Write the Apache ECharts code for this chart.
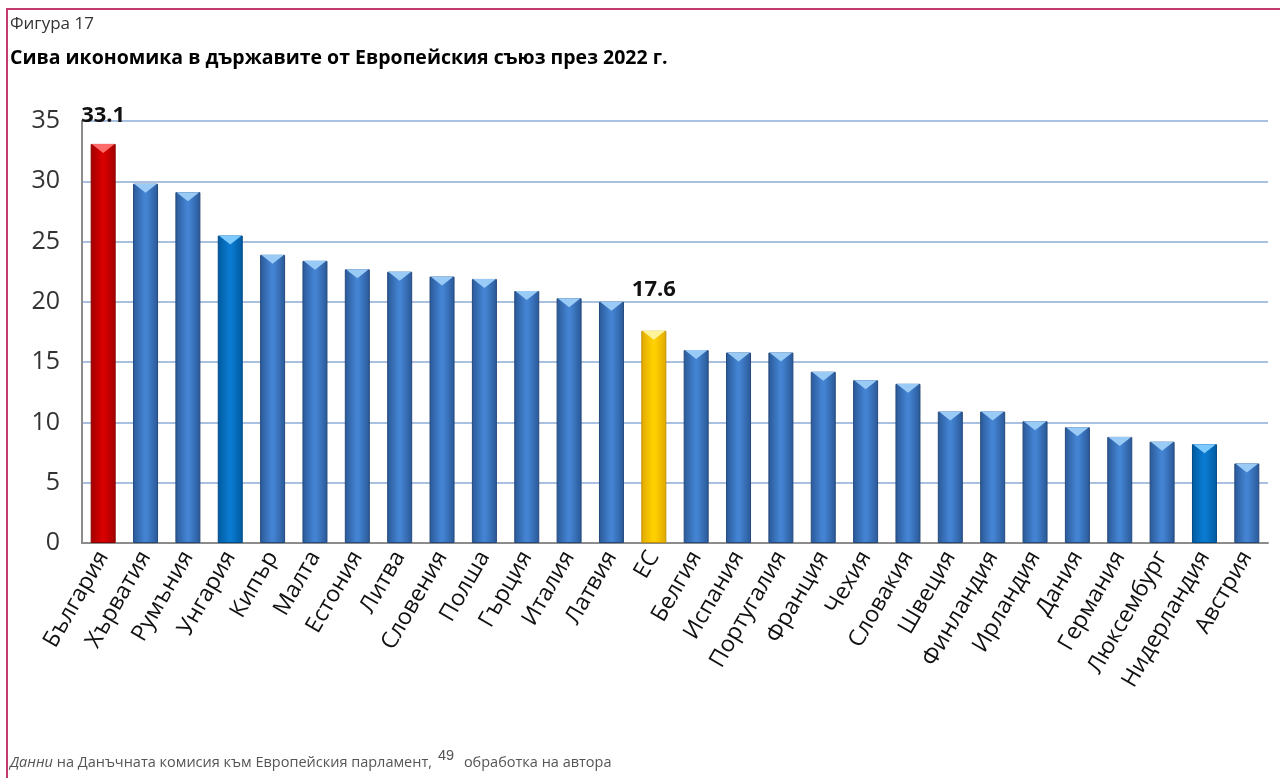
<!DOCTYPE html>
<html>
<head>
<meta charset="utf-8">
<script src="https://cdn.jsdelivr.net/npm/echarts@6/dist/echarts.min.js"></script>
<style>
  html, body { margin: 0; padding: 0; background: #fff; }
  #main { width: 1280px; height: 778px; }
</style>
</head>
<body>
<div id="main"></div>
<script>
// данни: сива икономика, % от БВП, 2022 г.
var countries = ['България', 'Хърватия', 'Румъния', 'Унгария', 'Кипър', 'Малта', 'Естония', 'Литва',
    'Словения', 'Полша', 'Гърция', 'Италия', 'Латвия', 'ЕС', 'Белгия', 'Испания', 'Португалия',
    'Франция', 'Чехия', 'Словакия', 'Швеция', 'Финландия', 'Ирландия', 'Дания', 'Германия',
    'Люксембург', 'Нидерландия', 'Австрия'];
var values = [33.1, 29.8, 29.1, 25.5, 23.9, 23.4, 22.7, 22.5,
    22.1, 21.9, 20.9, 20.3, 20.0, 17.6, 16.0, 15.8, 15.8,
    14.2, 13.5, 13.2, 10.9, 10.9, 10.1, 9.6, 8.8,
    8.4, 8.2, 6.6];
var yTicks = [0, 5, 10, 15, 20, 25, 30, 35];
var labelled = ['България', 'ЕС'];

var chart = echarts.init(document.getElementById('main'));

function grad(edge, mid) {
    return {
        type: 'linear', x: 0, y: 0, x2: 1, y2: 0,
        colorStops: [
            {offset: 0, color: edge},
            {offset: 0.45, color: mid},
            {offset: 0.55, color: mid},
            {offset: 1, color: edge}
        ]
    };
}
// цветове по държава
var styles = {
    'default': {body: grad('#2a5896', '#4383d2'), tip: '#9acbf7', border: '#24497c'},
    'България': {body: grad('#a00000', '#d80000'), tip: '#ff6a6a', border: '#8a0000'},
    'ЕС': {body: grad('#e0a800', '#ffd000'), tip: '#fff39a', border: '#c09000'},
    'Унгария': {body: grad('#005a9e', '#0a7ad0'), tip: '#7ccaff', border: '#004a86'},
    'Нидерландия': {body: grad('#005a9e', '#0a7ad0'), tip: '#7ccaff', border: '#004a86'}
};
function st(name) { return styles[name] || styles['default']; }

var barData = values.map(function (v, i) {
    var s = st(countries[i]);
    var item = {
        value: v,
        itemStyle: {color: s.body, borderColor: s.border, borderWidth: 1}
    };
    if (labelled.indexOf(countries[i]) >= 0) {
        item.label = {
            show: true,
            position: 'top',
            distance: countries[i] === 'ЕС' ? 30 : 17,
            formatter: function (p) { return p.value.toFixed(1); },
            fontFamily: 'Open Sans',
            fontWeight: 'bold',
            fontSize: 22,
            color: '#111'
        };
    }
    return item;
});
var tipData = values.map(function (v, i) {
    return {value: v, itemStyle: {color: st(countries[i]).tip}};
});

var option = {
    animation: false,
    backgroundColor: '#fff',
    grid: {left: 82, right: 12, top: 121, bottom: 235},
    xAxis: {
        type: 'category',
        data: countries,
        axisLine: {lineStyle: {color: '#8c8c8c', width: 2}},
        axisTick: {show: false},
        axisLabel: {
            interval: 0,
            rotate: 60,
            margin: 10,
            fontFamily: 'Open Sans',
            fontSize: 23,
            color: '#111'
        }
    },
    yAxis: {
        type: 'value',
        min: yTicks[0],
        max: yTicks[yTicks.length - 1],
        interval: yTicks[1] - yTicks[0],
        axisLine: {show: true, lineStyle: {color: '#8c8c8c', width: 2}},
        axisTick: {show: false},
        axisLabel: {margin: 22, fontFamily: 'Open Sans', fontSize: 25, color: '#333'},
        splitLine: {lineStyle: {color: '#a9c0e0', width: 2}}
    },
    series: [
        {
            type: 'bar',
            data: barData,
            barWidth: 25,
            barGap: '-100%',
            z: 2
        },
        {
            type: 'pictorialBar',
            data: tipData,
            barWidth: 25,
            barGap: '-100%',
            symbol: 'path://M0,0 L10,0 L5,4 Z',
            symbolSize: [23, 9],
            symbolPosition: 'end',
            symbolOffset: [0, 0],
            z: 3
        }
    ],
    graphic: [
        {type: 'line', shape: {x1: 6, y1: 9, x2: 1280, y2: 9}, style: {stroke: '#c23b6e', lineWidth: 2}},
        {type: 'line', shape: {x1: 7, y1: 9, x2: 7, y2: 778}, style: {stroke: '#c23b6e', lineWidth: 2}},
        {type: 'text', left: 10, top: 16, style: {text: 'Фигура 17', fontFamily: 'Open Sans', fontSize: 17, fill: '#333'}},
        {type: 'text', left: 10, top: 48, style: {text: 'Сива икономика в държавите от Европейския съюз през 2022 г.', fontFamily: 'Open Sans', fontWeight: 'bold', fontSize: 19.5, fill: '#000'}},
        {
            type: 'text', left: 10, top: 748,
            style: {
                text: '{i|Данни} на Данъчната комисия към Европейския парламент,{s|49} обработка на автора',
                fontFamily: 'Open Sans', fontSize: 14.5, fill: '#555',
                rich: {
                    i: {fontStyle: 'italic', fontFamily: 'Open Sans', fontSize: 14.5, fill: '#555'},
                    s: {fontSize: 14.5, fill: '#555', verticalAlign: 'top', padding: [0, 6, 14, 6]}
                }
            }
        }
    ]
};
chart.setOption(option);
</script>
</body>
</html>
